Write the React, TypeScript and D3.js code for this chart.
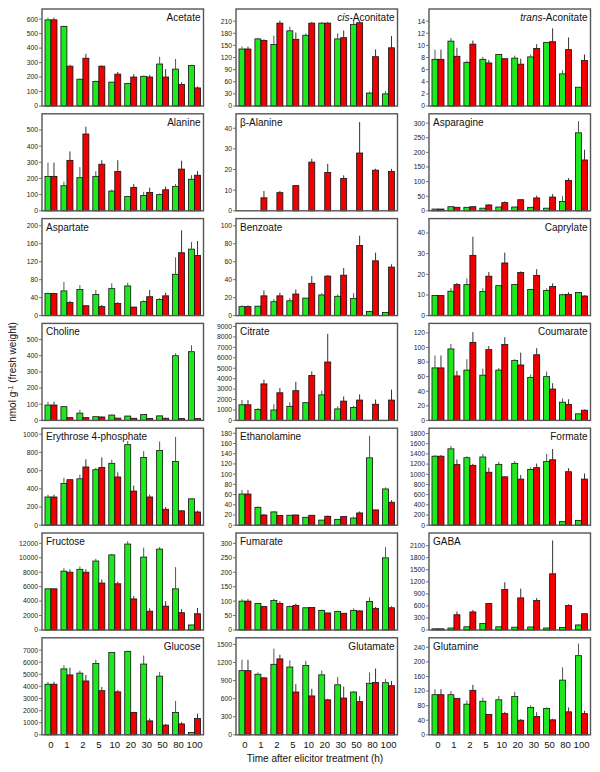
import React from "react";
import * as d3 from "d3";

const times = ["0", "1", "2", "5", "10", "20", "30", "50", "80", "100"];

// Acetate
const acetateCtrl = [595, 550, 185, 170, 165, 155, 205, 290, 255, 280];
const acetateCtrlErr = [15, 5, 5, 5, 0, 5, 5, 50, 70, 5];
const acetateElic = [595, 275, 330, 275, 220, 200, 200, 200, 148, 125];
const acetateElicErr = [15, 10, 30, 5, 15, 20, 15, 55, 15, 10];
// cis-Aconitate
const cisAcoCtrl = [141, 166, 152, 186, 175, 205, 166, 202, 32, 30];
const cisAcoCtrlErr = [6, 3, 22, 10, 5, 3, 14, 10, 4, 6];
const cisAcoElic = [141, 162, 205, 165, 205, 205, 169, 206, 122, 144];
const cisAcoElicErr = [6, 3, 6, 17, 3, 3, 18, 5, 18, 29];
// trans-Aconitate
const transAcoCtrl = [7.7, 10.7, 7.2, 7.7, 8.5, 7.9, 8.1, 10.5, 5.3, 3.1];
const transAcoCtrlErr = [1.6, 0.5, 0.3, 0.4, 0, 0.4, 0.4, 0, 0.6, 0];
const transAcoElic = [7.7, 8.2, 10.2, 7.1, 7.8, 6.9, 9.5, 10.6, 9.3, 7.5];
const transAcoElicErr = [1.6, 1.4, 0.6, 0.5, 0, 0.9, 0.7, 2.2, 2.0, 1.0];
// Alanine
const alanineCtrl = [213, 155, 205, 213, 122, 88, 95, 100, 150, 195];
const alanineCtrlErr = [85, 25, 65, 32, 10, 5, 22, 7, 15, 25];
const alanineElic = [213, 312, 475, 288, 243, 145, 113, 130, 258, 220];
const alanineElicErr = [85, 55, 45, 25, 70, 20, 30, 20, 52, 25];
// beta-Alanine
const bAlanineCtrl = [0, 0, 0, 0, 0, 0, 0, 0, 0, 0];
const bAlanineCtrlErr = [0, 0, 0, 0, 0, 0, 0, 0, 0, 0];
const bAlanineElic = [0, 6.3, 8.8, 12.2, 23.6, 18.6, 15.7, 28, 19.7, 19];
const bAlanineElicErr = [0, 3.3, 0.8, 0.3, 1.6, 4.2, 1.5, 15, 0.7, 1.3];
// Asparagine
const asparagineCtrl = [6, 14, 12, 9, 13, 13, 12, 9, 32, 267];
const asparagineCtrlErr = [0, 0, 0, 0, 0, 0, 0, 0, 18, 40];
const asparagineElic = [6, 12, 14, 20, 28, 38, 44, 47, 104, 174];
const asparagineElicErr = [0, 0, 0, 3, 4, 0, 8, 10, 8, 35];
// Aspartate
const aspartateCtrl = [49, 55, 58, 47, 60, 66, 31, 36, 92, 148];
const aspartateCtrlErr = [2, 20, 10, 10, 12, 7, 3, 3, 38, 16];
const aspartateElic = [49, 29, 22, 20, 27, 19, 42, 44, 140, 134];
const aspartateElicErr = [2, 4, 0, 4, 3, 0, 15, 7, 50, 32];
// Benzoate
const benzoateCtrl = [10, 10.5, 15.5, 16.5, 19.5, 23, 21.5, 19, 4.5, 3.5];
const benzoateCtrlErr = [1.5, 0.5, 3, 3, 0, 2, 2, 6, 1, 0.5];
const benzoateElic = [10, 22, 22, 24, 36, 44, 45, 78, 61, 54];
const benzoateElicErr = [1.5, 6, 3.5, 5, 8, 1, 8, 11, 9, 3];
// Caprylate
const caprylateCtrl = [9.7, 11.8, 15, 11.7, 14.5, 15.1, 12.7, 12.2, 10.1, 11.2];
const caprylateCtrlErr = [0.2, 1.5, 3, 1.5, 0.3, 0.3, 0.3, 1, 0.5, 0.2];
const caprylateElic = [9.7, 15, 29.2, 19.1, 25.5, 20.9, 19.5, 14.1, 10.3, 9.5];
const caprylateElicErr = [0.2, 0.8, 9, 2, 5, 0.5, 3, 1.5, 1, 0.3];
// Choline
const cholineCtrl = [95, 85, 45, 23, 33, 27, 36, 28, 400, 425];
const cholineCtrlErr = [20, 2, 20, 0, 4, 0, 3, 2, 15, 40];
const cholineElic = [95, 17, 17, 21, 14, 13, 12, 13, 12, 12];
const cholineElicErr = [20, 0, 0, 4, 0, 0, 0, 4, 0, 0];
// Citrate
const citrateCtrl = [1500, 1050, 1000, 1350, 1700, 2450, 1100, 1250, 0, 0];
const citrateCtrlErr = [450, 150, 550, 400, 0, 400, 250, 150, 0, 0];
const citrateElic = [1500, 3500, 2650, 2850, 4300, 5600, 1850, 1950, 1550, 1950];
const citrateElicErr = [450, 400, 450, 850, 400, 2700, 450, 550, 450, 1000];
// Coumarate
const coumarateCtrl = [72, 98, 69, 62, 69, 82, 59, 60, 25, 9];
const coumarateCtrlErr = [17, 7, 15, 9, 3, 2, 4, 7, 5, 0];
const coumarateElic = [72, 61, 107, 97, 104, 76, 90, 43, 22, 14];
const coumarateElicErr = [17, 7, 14, 5, 10, 17, 9, 8, 7, 1];
// Erythrose 4-phosphate
const e4pCtrl = [310, 460, 510, 610, 680, 885, 745, 820, 700, 290];
const e4pCtrlErr = [25, 60, 45, 20, 40, 40, 70, 100, 270, 0];
const e4pElic = [310, 500, 640, 635, 530, 375, 310, 175, 158, 145];
const e4pElicErr = [25, 0, 85, 110, 50, 60, 25, 25, 10, 15];
// Ethanolamine
const ethanolamineCtrl = [61, 35, 26, 19.5, 15.5, 10, 11.5, 14, 132, 71];
const ethanolamineCtrlErr = [8, 2, 2, 0, 0, 0, 0, 3, 43, 3];
const ethanolamineElic = [61, 20, 19, 20, 19.5, 17.5, 17, 24, 30, 45];
const ethanolamineElicErr = [8, 2, 0, 0.5, 0, 1.5, 1, 3, 0, 4];
// Formate
const formateCtrl = [1355, 1500, 1325, 1340, 1195, 1210, 1095, 1250, 70, 95];
const formateCtrlErr = [25, 60, 30, 60, 50, 50, 40, 150, 0, 0];
const formateElic = [1355, 1190, 1175, 1040, 950, 905, 1130, 1285, 1050, 905];
const formateElicErr = [25, 100, 30, 90, 10, 80, 80, 210, 70, 110];
// Fructose
const fructoseCtrl = [5700, 8150, 8400, 9550, 10400, 11900, 10100, 11200, 5700, 700];
const fructoseCtrlErr = [50, 400, 400, 300, 150, 400, 1300, 300, 3000, 0];
const fructoseElic = [5700, 8000, 8000, 6500, 6400, 4300, 2600, 3300, 2400, 2250];
const fructoseElicErr = [50, 400, 400, 500, 300, 400, 400, 700, 500, 800];
// Fumarate
const fumarateCtrl = [100, 92, 102, 81, 77, 68, 64, 68, 99, 250];
const fumarateCtrlErr = [7, 2, 6, 4, 0, 3, 3, 7, 14, 37];
const fumarateElic = [100, 81, 92, 85, 78, 59, 58, 66, 75, 77];
const fumarateElicErr = [7, 3, 8, 6, 2, 0, 0, 3, 5, 5];
// GABA
const gabaCtrl = [30, 50, 80, 160, 80, 70, 75, 50, 65, 125];
const gabaCtrlErr = [0, 0, 0, 20, 0, 0, 0, 0, 0, 20];
const gabaElic = [30, 380, 450, 660, 1010, 800, 735, 1400, 610, 405];
const gabaElicErr = [0, 80, 50, 0, 180, 230, 60, 830, 30, 15];
// Glucose
const glucoseCtrl = [4180, 5450, 5100, 5900, 6800, 6900, 5850, 4850, 1850, 200];
const glucoseCtrlErr = [200, 300, 200, 300, 50, 50, 700, 350, 950, 0];
const glucoseElic = [4180, 4950, 4450, 3650, 3550, 1850, 1150, 800, 900, 1350];
const glucoseElicErr = [200, 600, 500, 300, 150, 50, 200, 100, 150, 400];
// Glutamate
const glutamateCtrl = [1065, 1005, 1170, 1125, 1150, 995, 830, 710, 855, 865];
const glutamateCtrlErr = [180, 30, 260, 110, 80, 70, 130, 15, 180, 60];
const glutamateElic = [1065, 945, 1260, 710, 645, 580, 610, 550, 870, 815];
const glutamateElicErr = [180, 15, 70, 130, 120, 20, 190, 90, 230, 80];
// Glutamine
const glutamineCtrl = [110, 110, 84, 92, 96, 105, 75, 72, 150, 217];
const glutamineCtrlErr = [15, 10, 10, 10, 10, 13, 6, 3, 35, 33];
const glutamineElic = [110, 100, 122, 56, 58, 40, 50, 41, 63, 58];
const glutamineElicErr = [15, 0, 15, 0, 5, 3, 12, 3, 12, 8];

type Seg = { t: string; i?: boolean };
type Panel = {
  label: Seg[];
  right: boolean;
  max: number;
  step: number;
  top: number;
  g: number[];
  ge: number[];
  r: number[];
  re: number[];
};

const panels: Panel[] = [
  { label: [{ t: "Acetate" }], right: true, max: 670, step: 100, top: 600, g: acetateCtrl, ge: acetateCtrlErr, r: acetateElic, re: acetateElicErr },
  { label: [{ t: "cis", i: true }, { t: "-Aconitate" }], right: true, max: 240, step: 30, top: 210, g: cisAcoCtrl, ge: cisAcoCtrlErr, r: cisAcoElic, re: cisAcoElicErr },
  { label: [{ t: "trans", i: true }, { t: "-Aconitate" }], right: true, max: 16, step: 2, top: 14, g: transAcoCtrl, ge: transAcoCtrlErr, r: transAcoElic, re: transAcoElicErr },
  { label: [{ t: "Alanine" }], right: true, max: 600, step: 100, top: 500, g: alanineCtrl, ge: alanineCtrlErr, r: alanineElic, re: alanineElicErr },
  { label: [{ t: "β-Alanine" }], right: false, max: 47, step: 10, top: 40, g: bAlanineCtrl, ge: bAlanineCtrlErr, r: bAlanineElic, re: bAlanineElicErr },
  { label: [{ t: "Asparagine" }], right: false, max: 332, step: 50, top: 300, g: asparagineCtrl, ge: asparagineCtrlErr, r: asparagineElic, re: asparagineElicErr },
  { label: [{ t: "Aspartate" }], right: false, max: 216, step: 40, top: 200, g: aspartateCtrl, ge: aspartateCtrlErr, r: aspartateElic, re: aspartateElicErr },
  { label: [{ t: "Benzoate" }], right: false, max: 108, step: 20, top: 100, g: benzoateCtrl, ge: benzoateCtrlErr, r: benzoateElic, re: benzoateElicErr },
  { label: [{ t: "Caprylate" }], right: true, max: 47, step: 10, top: 40, g: caprylateCtrl, ge: caprylateCtrlErr, r: caprylateElic, re: caprylateElicErr },
  { label: [{ t: "Choline" }], right: false, max: 600, step: 100, top: 500, g: cholineCtrl, ge: cholineCtrlErr, r: cholineElic, re: cholineElicErr },
  { label: [{ t: "Citrate" }], right: false, max: 9300, step: 1000, top: 9000, g: citrateCtrl, ge: citrateCtrlErr, r: citrateElic, re: citrateElicErr },
  { label: [{ t: "Coumarate" }], right: true, max: 133, step: 20, top: 120, g: coumarateCtrl, ge: coumarateCtrlErr, r: coumarateElic, re: coumarateElicErr },
  { label: [{ t: "Erythrose 4-phosphate" }], right: false, max: 1066, step: 200, top: 1000, g: e4pCtrl, ge: e4pCtrlErr, r: e4pElic, re: e4pElicErr },
  { label: [{ t: "Ethanolamine" }], right: false, max: 190, step: 20, top: 180, g: ethanolamineCtrl, ge: ethanolamineCtrlErr, r: ethanolamineElic, re: ethanolamineElicErr },
  { label: [{ t: "Formate" }], right: true, max: 1905, step: 200, top: 1800, g: formateCtrl, ge: formateCtrlErr, r: formateElic, re: formateElicErr },
  { label: [{ t: "Fructose" }], right: false, max: 13430, step: 2000, top: 12000, g: fructoseCtrl, ge: fructoseCtrlErr, r: fructoseElic, re: fructoseElicErr },
  { label: [{ t: "Fumarate" }], right: false, max: 336, step: 50, top: 300, g: fumarateCtrl, ge: fumarateCtrlErr, r: fumarateElic, re: fumarateElicErr },
  { label: [{ t: "GABA" }], right: false, max: 2416, step: 300, top: 2100, g: gabaCtrl, ge: gabaCtrlErr, r: gabaElic, re: gabaElicErr },
  { label: [{ t: "Glucose" }], right: true, max: 8020, step: 1000, top: 7000, g: glucoseCtrl, ge: glucoseCtrlErr, r: glucoseElic, re: glucoseElicErr },
  { label: [{ t: "Glutamate" }], right: true, max: 1610, step: 300, top: 1500, g: glutamateCtrl, ge: glutamateCtrlErr, r: glutamateElic, re: glutamateElicErr },
  { label: [{ t: "Glutamine" }], right: false, max: 266, step: 40, top: 240, g: glutamineCtrl, ge: glutamineCtrlErr, r: glutamineElic, re: glutamineElicErr },
];

const colLeft = [42, 236, 429];
const plotW = 161.5;
const plotH = 97;
const rowTop0 = 9;
const rowPitch = 104.8;
const barW = 6;
const GREEN = "#1ee81e";
const RED = "#f00000";
const FONT = "Arial, 'Liberation Sans', Helvetica, sans-serif";

function PanelView({ p, idx }: { p: Panel; idx: number }) {
  const col = idx % 3;
  const row = Math.floor(idx / 3);
  const x0 = colLeft[col];
  const y0 = rowTop0 + row * rowPitch;
  const y = d3.scaleLinear().domain([0, p.max]).range([y0 + plotH, y0]);
  const x = d3.scaleBand<string>().domain(times).range([x0 + 1, x0 + plotW - 1]);
  const bw = x.bandwidth();
  const ticks = d3.range(0, p.top + p.step / 2, p.step);
  const fmt = d3.format("d");
  const isBottom = row === 6;
  return (
    <g>
      {times.map((t, i) => {
        const c = (x(t) as number) + bw / 2;
        return (
          <g key={t}>
            {p.g[i] > 0 && (
              <rect x={c - barW} y={y(p.g[i])} width={barW} height={y(0) - y(p.g[i])} fill={GREEN} stroke="#111" strokeWidth={0.8} />
            )}
            {p.r[i] > 0 && (
              <rect x={c} y={y(p.r[i])} width={barW} height={y(0) - y(p.r[i])} fill={RED} stroke="#111" strokeWidth={0.8} />
            )}
            {p.ge[i] > 0 && (
              <line x1={c - barW / 2} x2={c - barW / 2} y1={y(p.g[i])} y2={y(p.g[i] + p.ge[i])} stroke="#555" strokeWidth={1} />
            )}
            {p.re[i] > 0 && (
              <line x1={c + barW / 2} x2={c + barW / 2} y1={y(p.r[i])} y2={y(p.r[i] + p.re[i])} stroke="#333" strokeWidth={1} />
            )}
            {isBottom && (
              <text x={c} y={y0 + plotH + 13} textAnchor="middle" fontSize={9.5} fill="#111" fontFamily={FONT}>
                {t}
              </text>
            )}
          </g>
        );
      })}
      <rect x={x0} y={y0} width={plotW} height={plotH} fill="none" stroke="#555" strokeWidth={1.4} />
      {ticks.map((v) => (
        <g key={v}>
          <line x1={x0 - 3} x2={x0} y1={y(v)} y2={y(v)} stroke="#555" strokeWidth={0.8} />
          <text x={x0 - 4} y={y(v)} dy="0.35em" textAnchor="end" fontSize={6.8} fill="#222" fontFamily={FONT}>
            {fmt(v)}
          </text>
        </g>
      ))}
      <text
        x={p.right ? x0 + plotW - 3 : x0 + 4}
        y={y0 + 12}
        textAnchor={p.right ? "end" : "start"}
        fontSize={10}
        fill="#111"
        fontFamily={FONT}
      >
        {p.label.map((s, k) => (
          <tspan key={k} fontStyle={s.i ? "italic" : "normal"}>
            {s.t}
          </tspan>
        ))}
      </text>
    </g>
  );
}

export default function App() {
  return (
    <svg
      width={600}
      height={772}
      style={{ position: "absolute", left: 0, top: 0, background: "#fff" }}
      fontFamily={FONT}
    >
      <rect x={0} y={0} width={600} height={772} fill="#fff" />
      {panels.map((p, i) => (
        <PanelView key={i} p={p} idx={i} />
      ))}
      <text
        transform="translate(16,372) rotate(-90)"
        textAnchor="middle"
        fontSize={10}
        fill="#111"
        fontFamily={FONT}
      >
        nmol g
        <tspan dy={-3.5} fontSize={7}>-1</tspan>
        <tspan dy={3.5}> (fresh weight)</tspan>
      </text>
      <text x={315} y={762} textAnchor="middle" fontSize={10} fill="#111" fontFamily={FONT}>
        Time after elicitor treatment (h)
      </text>
    </svg>
  );
}
